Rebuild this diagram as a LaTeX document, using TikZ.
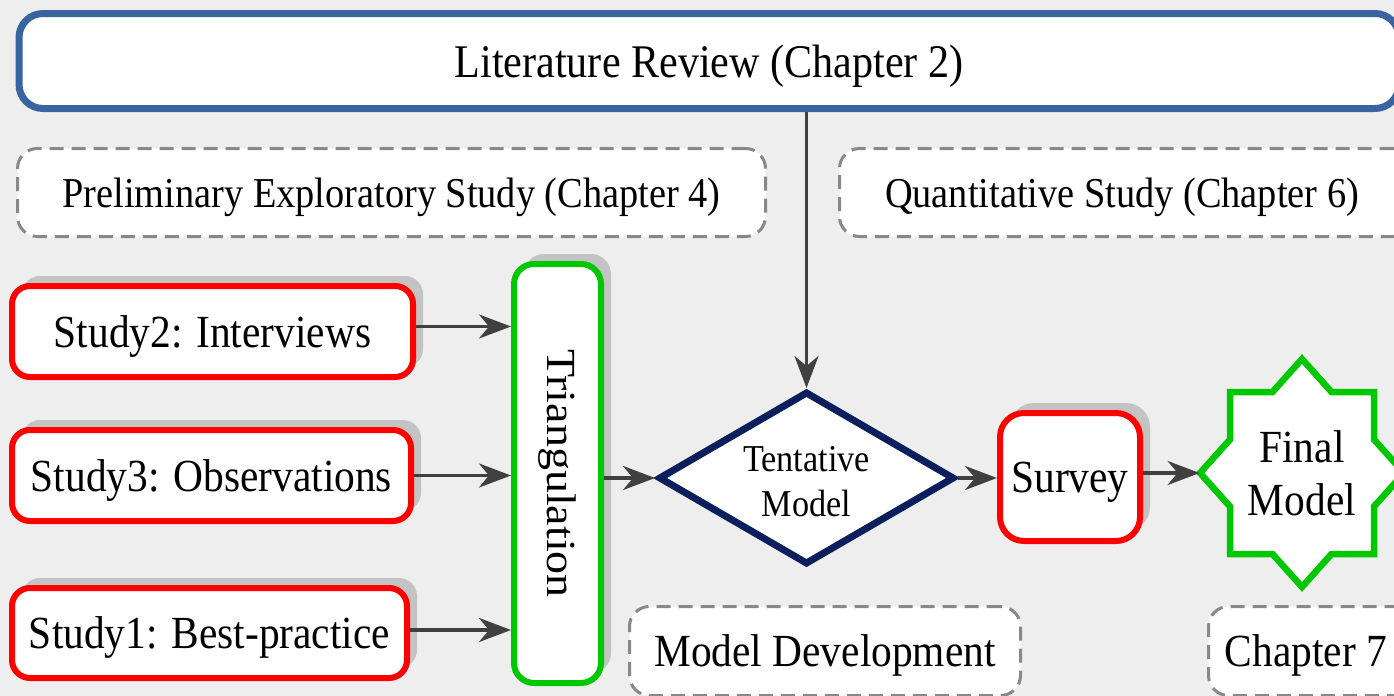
\documentclass[tikz,border=0pt]{standalone}
\usepackage{fontspec}
\usepackage{graphicx}
\setmainfont{Liberation Serif}[FakeStretch=0.9]
\newfontfamily\plainserif{Liberation Serif}
\usetikzlibrary{arrows.meta,shapes.geometric,shadows}
\definecolor{bgcol}{HTML}{EEEEEE}
\definecolor{litblue}{HTML}{3A64A0}
\definecolor{dashgray}{HTML}{888888}
\definecolor{boxred}{HTML}{FF0000}
\definecolor{boxgreen}{HTML}{00C800}
\definecolor{navy}{HTML}{0A1F5C}
\definecolor{arrowgray}{HTML}{404040}
\definecolor{shadowgray}{HTML}{C3C3C3}
\newcommand{\mainfs}{\fontsize{23pt}{26.5pt}\selectfont}
\newcommand{\smallfs}{\fontsize{21.3pt}{24pt}\selectfont}
\newcommand{\diafs}{\fontsize{19pt}{22.5pt}\selectfont}
\begin{document}
\begin{tikzpicture}[x=0.5pt,y=-0.5pt,
  myshadow/.style={drop shadow={shadow xshift=5pt,shadow yshift=5pt,fill=shadowgray,opacity=1}},
  redbox/.style={draw=boxred,line width=3pt,fill=white,rounded corners=9pt,inner sep=0pt,text depth=0pt,myshadow,font=\mainfs},
  greenbox/.style={draw=boxgreen,line width=3pt,fill=white,rounded corners=10pt,inner sep=0pt,myshadow},
  dashbox/.style={draw=dashgray,line width=1.5pt,dash pattern=on 7pt off 4pt,fill=white,rounded corners=10pt,inner sep=0pt,text depth=0pt},
  litbox/.style={draw=litblue,line width=3.5pt,fill=white,rounded corners=12pt,inner sep=0pt,text depth=0pt,font=\fontsize{23.4pt}{27pt}\selectfont},
  diabox/.style={diamond,draw=navy,line width=3.5pt,fill=white,inner sep=0pt,aspect=1.7,align=center,text height=39pt,font=\diafs},
  starline/.style={draw=boxgreen,line width=3.25pt,fill=white,line join=miter},
  arr/.style={draw=arrowgray,line width=1.75pt,-{Stealth[length=16pt,width=12pt,inset=5pt]}}
]
\clip (0,0) rectangle (1394,696);
\fill[bgcol] (0,0) rectangle (1394,696);
\useasboundingbox (0,0) rectangle (1394,696);

% top box
\node[litbox,minimum width=690pt,minimum height=47.5pt] (lit) at (709,61) {Literature Review (Chapter 2)};

% dashed section boxes
\node[dashbox,minimum width=374pt,minimum height=44pt,font=\smallfs] (prelim) at (391.5,192.5) {Preliminary Exploratory Study (Chapter 4)};
\node[dashbox,minimum width=287pt,minimum height=44pt,font=\smallfs] (quant) at (1126.5,192.5) {Quantitative Study (Chapter 6)\hspace*{4.5pt}};
\node[dashbox,minimum width=195.5pt,minimum height=44.5pt,font=\mainfs] (moddev) at (825,651) {Model Development};
\node[dashbox,minimum width=105pt,minimum height=44.5pt,font=\mainfs] (ch7) at (1313.5,651) {Chapter 7\hspace*{7.5pt}};

% studies
\node[redbox,minimum width=200.5pt,minimum height=45.5pt] (s2) at (212.5,331.5) {Study2: Interviews};
\node[redbox,minimum width=199.5pt,minimum height=45.5pt] (s3) at (211.5,475.5) {Study3: Observations};
\node[redbox,minimum width=197.5pt,minimum height=45pt] (s1) at (209.5,633) {Study1: Best-practice};

% triangulation
\node[greenbox,minimum width=43.5pt,minimum height=209.5pt] (tri) at (557.5,473.5) {};
\node[rotate=-90,inner sep=0pt,font=\plainserif\fontsize{23pt}{26.5pt}\selectfont] (trilabel) at (tri.center) {\scalebox{1}[0.9]{Triangulation}};

% tentative model
\node[diabox,minimum width=148pt,minimum height=86.5pt] (dia) at (806.5,478) {Tentative\\Model};

% survey
\node[redbox,rounded corners=12pt,minimum width=70pt,minimum height=64pt] (sv) at (1070,477) {Survey};

% final model star
\coordinate (fc) at (1302,473);
\begin{scope}[shift={(fc)}]
\draw[starline] (0,-114) -- (29.5,-81) -- (72,-81) -- (72,-33.5) -- (102,0) -- (72,33.5) -- (72,81) -- (29.5,81) -- (0,114) -- (-29.5,81) -- (-72,81) -- (-72,33.5) -- (-102,0) -- (-72,-33.5) -- (-72,-81) -- (-29.5,-81) -- cycle;
\end{scope}
\node[minimum width=102pt,minimum height=114pt,inner sep=0pt,align=center,font=\mainfs] (final) at (fc) {Final\\Model};

% connectors
\draw[arr] (lit.south -| dia.north) -- (dia.north);
\draw[arr] ([yshift=2.5pt]s2.east) -- ([yshift=2.5pt]s2.east -| tri.west);
\draw[arr] (s3.east) -- (s3.east -| tri.west);
\draw[arr] ([yshift=1.5pt]s1.east) -- ([yshift=1.5pt]s1.east -| tri.west);
\draw[arr] (tri.east |- dia.west) -- (dia.west);
\draw[arr] (dia.east) -- (dia.east -| sv.west);
\draw[arr] (sv.east |- final.west) -- (final.west);
\end{tikzpicture}
\end{document}
